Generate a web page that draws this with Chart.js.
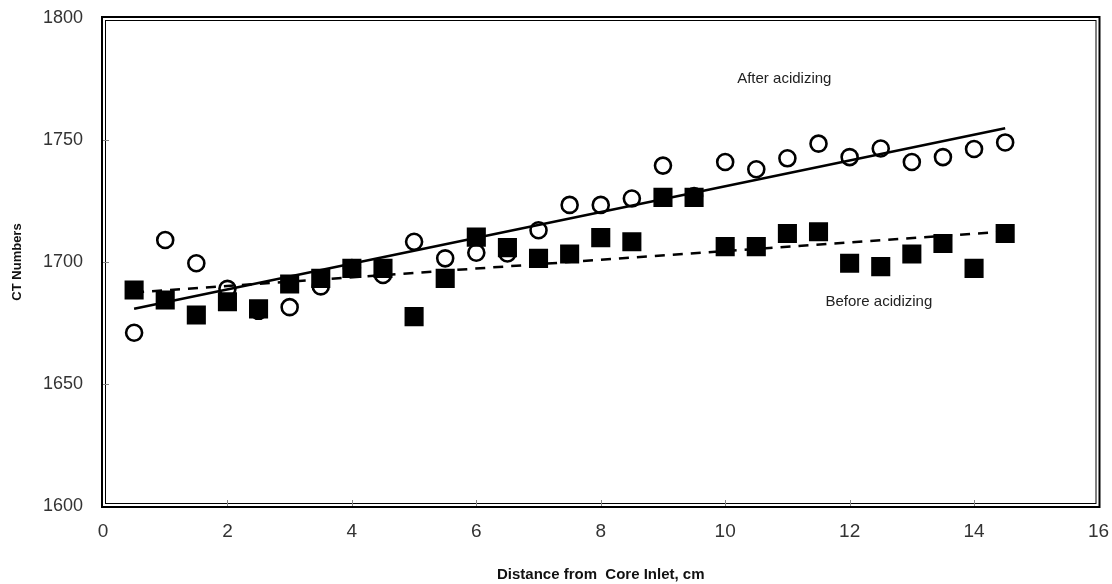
<!DOCTYPE html>
<html>
<head>
<meta charset="utf-8">
<script src="https://cdn.jsdelivr.net/npm/chart.js@4"></script>
<style>
  html, body { margin: 0; padding: 0; background: #fff; }
  #wrap { width: 1112px; height: 584px; }
</style>
</head>
<body>
<div id="wrap"><canvas id="ctChart" width="1112" height="584"></canvas></div>
<script>
// Distance from core inlet (cm)
const distance = [0.5, 1, 1.5, 2, 2.5, 3, 3.5, 4, 4.5, 5, 5.5, 6, 6.5, 7, 7.5,
                  8, 8.5, 9, 9.5, 10, 10.5, 11, 11.5, 12, 12.5, 13, 13.5, 14, 14.5];

// CT numbers
const afterAcidizing = [1671, 1709, 1699.5, 1689, 1680, 1681.5, 1690, 1697.5, 1694.7, 1708.3,
                        1701.5, 1703.8, 1703.5, 1713, 1723.4, 1723.4, 1726, 1739.5, 1727,
                        1741, 1738, 1742.5, 1748.5, 1743, 1746.5, 1741, 1743, 1746.3, 1749];
const beforeAcidizing = [1688.5, 1684.4, 1678.3, 1683.7, 1680.8, 1691, 1693.3, 1697.4, 1697.4, 1677.6,
                         1693.3, 1710.2, 1705.9, 1701.5, 1703.3, 1710, 1708.3, 1726.5, 1726.5,
                         1706.3, 1706.3, 1711.7, 1712.4, 1699.5, 1698.1, 1703.3, 1707.6, 1697.4, 1711.7];

// trend line end points (as drawn)
const trendX = [0.5, 14.5];
const trendAfter = [1680.8, 1754.8];
const trendBefore = [1687.5, 1712.5];

const xTicks = [0, 2, 4, 6, 8, 10, 12, 14, 16];
const yTicks = [1600, 1650, 1700, 1750, 1800];

const toPoints = (xs, ys) => xs.map((x, i) => ({ x: x, y: ys[i] }));

// frame, inner tick marks and the two text labels
const framePlugin = {
    id: 'frame',
    afterDraw(chart) {
        const { ctx, chartArea: a, scales } = chart;
        ctx.save();
        ctx.strokeStyle = '#000';
        ctx.lineWidth = 2;
        ctx.strokeRect(a.left - 1, a.top - 1, a.right - a.left + 2, a.bottom - a.top + 2);
        ctx.lineWidth = 1;
        ctx.strokeRect(a.left + 2.5, a.top + 2.5, a.right - a.left - 5, a.bottom - a.top - 5);

        ctx.strokeStyle = '#888';
        ctx.lineWidth = 1;
        xTicks.slice(1, -1).forEach(v => {
            const px = Math.round(scales.x.getPixelForValue(v)) + 0.5;
            ctx.beginPath();
            ctx.moveTo(px, a.bottom);
            ctx.lineTo(px, a.bottom - 6);
            ctx.stroke();
        });
        yTicks.slice(1, -1).forEach(v => {
            const py = Math.round(scales.y.getPixelForValue(v)) + 0.5;
            ctx.beginPath();
            ctx.moveTo(a.left, py);
            ctx.lineTo(a.left + 6, py);
            ctx.stroke();
        });

        ctx.fillStyle = '#222';
        ctx.font = '15px "Liberation Sans", Arial, sans-serif';
        ctx.textAlign = 'center';
        ctx.textBaseline = 'middle';
        ctx.fillText('After acidizing', scales.x.getPixelForValue(10.95), scales.y.getPixelForValue(1775));
        ctx.fillText('Before acidizing', scales.x.getPixelForValue(12.47), scales.y.getPixelForValue(1683.6));
        ctx.restore();
    }
};

new Chart(document.getElementById('ctChart'), {
    type: 'scatter',
    data: {
        datasets: [
            {
                label: 'Before acidizing',
                data: toPoints(distance, beforeAcidizing),
                pointStyle: 'rect',
                pointRadius: 13.5,
                pointBackgroundColor: '#000',
                pointBorderColor: '#000',
                pointBorderWidth: 0,
                order: 0
            },
            {
                label: 'After acidizing',
                data: toPoints(distance, afterAcidizing),
                pointStyle: 'circle',
                pointRadius: 8,
                pointBackgroundColor: 'rgba(0,0,0,0)',
                pointBorderColor: '#000',
                pointBorderWidth: 2.6,
                order: 1
            },
            {
                label: 'Trend after',
                data: toPoints(trendX, trendAfter),
                showLine: true,
                borderColor: '#000',
                borderWidth: 2.5,
                pointRadius: 0,
                order: 2
            },
            {
                label: 'Trend before',
                data: toPoints(trendX, trendBefore),
                showLine: true,
                borderColor: '#000',
                borderWidth: 2.5,
                borderDash: [10, 8],
                pointRadius: 0,
                order: 2
            }
        ]
    },
    options: {
        responsive: false,
        animation: false,
        layout: { padding: { top: 18, right: 12, left: 0, bottom: 0 } },
        plugins: {
            legend: { display: false },
            tooltip: { enabled: false }
        },
        scales: {
            x: {
                type: 'linear',
                min: 0,
                max: 16,
                afterFit: (scale) => {
                    scale.height = 78;
                    scale.paddingLeft = 0;
                    scale.paddingRight = 0;
                },
                afterBuildTicks: (scale) => { scale.ticks = xTicks.map(v => ({ value: v })); },
                grid: { display: false, drawTicks: false },
                border: { display: false },
                ticks: {
                    padding: 14,
                    color: '#333',
                    font: { family: '"Liberation Sans Narrow", "Liberation Sans", Arial', size: 19 },
                    maxRotation: 0,
                    callback: (v) => String(v)
                },
                title: {
                    display: true,
                    text: 'Distance from  Core Inlet, cm',
                    color: '#111',
                    font: { family: '"Liberation Sans Narrow", "Liberation Sans", Arial', size: 15, weight: 'bold' },
                    padding: { top: 10, bottom: 0 }
                }
            },
            y: {
                type: 'linear',
                min: 1600,
                max: 1800,
                afterFit: (scale) => {
                    scale.width = 103;
                    scale.paddingTop = 0;
                    scale.paddingBottom = 0;
                },
                afterBuildTicks: (scale) => { scale.ticks = yTicks.map(v => ({ value: v })); },
                grid: { display: false, drawTicks: false },
                border: { display: false },
                ticks: {
                    padding: 20,
                    color: '#333',
                    font: { family: '"Liberation Sans", Arial', size: 18 },
                    callback: (v) => String(v)
                },
                title: {
                    display: true,
                    text: 'CT Numbers',
                    color: '#111',
                    font: { family: '"Liberation Sans", Arial', size: 13, weight: 'bold' },
                    padding: { top: 10, bottom: 6 }
                }
            }
        }
    },
    plugins: [framePlugin]
});
</script>
</body>
</html>
